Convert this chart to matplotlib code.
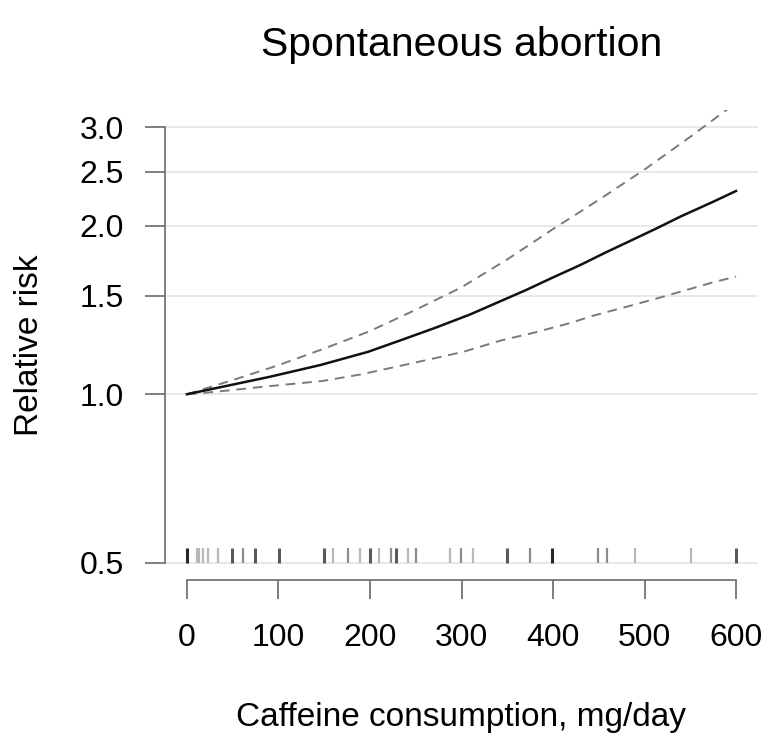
import matplotlib
matplotlib.use("Agg")
import matplotlib.pyplot as plt
import numpy as np

plt.rcParams['font.family'] = ['Liberation Sans', 'DejaVu Sans']

# ---- data ----
title = "Spontaneous abortion"
xlabel = "Caffeine consumption, mg/day"
ylabel = "Relative risk"

xticks = [0, 100, 200, 300, 400, 500, 600]
yticks = [0.5, 1.0, 1.5, 2.0, 2.5, 3.0]
ytick_labels = ["0.5", "1.0", "1.5", "2.0", "2.5", "3.0"]

est_x = [0, 90, 146, 198, 236, 271, 309, 336, 371, 398, 430, 457, 484, 513, 540, 574, 600]
est_y = [1.0, 1.074, 1.128, 1.191, 1.253, 1.314, 1.388, 1.451, 1.537, 1.612, 1.703,
         1.791, 1.879, 1.979, 2.081, 2.205, 2.309]

upper_x = [0, 50, 100, 150, 200, 250, 300, 350, 400, 450, 500, 550, 600]
upper_y = [1.0, 1.060, 1.127, 1.207, 1.297, 1.416, 1.553, 1.742, 1.974, 2.226, 2.522,
           2.886, 3.32]

lower_x = [0, 31, 85, 148, 190, 232, 273, 302, 344, 378, 419, 444, 482, 515, 544, 574, 600]
lower_y = [1.0, 1.010, 1.032, 1.056, 1.085, 1.123, 1.162, 1.191, 1.249, 1.287, 1.341,
           1.382, 1.436, 1.486, 1.533, 1.584, 1.623]

rug_x = [0, 11, 13.5, 17, 23, 34, 49, 61, 74, 101, 150, 160, 176, 189, 200, 210, 223,
         228, 241, 250, 287, 299, 313, 350, 375, 399, 449, 459, 490, 551, 600]
rug_w = [4, 1, 1, 1, 1, 1, 3, 2, 3, 3, 3, 1, 2, 1, 3, 1, 2, 3, 1, 2, 1, 2, 1, 3, 2, 4,
         2, 2, 1, 1, 3]

# ---- figure ----
W, H, DPI = 767, 738, 100
fig = plt.figure(figsize=(W / DPI, H / DPI), dpi=DPI)
L, R, T, B = 165, 758, 110, 580
ax = fig.add_axes([L / W, 1 - B / H, (R - L) / W, (B - T) / H])

ax.set_yscale('log')
xmin, xmax = xticks[0], xticks[-1]
xpad = 0.04 * (xmax - xmin)
ax.set_xlim(xmin - xpad, xmax + xpad)
lo, hi = np.log(yticks[0]), np.log(yticks[-1])
ypad = 0.04 * (hi - lo)
ax.set_ylim(np.exp(lo - ypad), np.exp(hi + ypad))

# grid lines
for yv in yticks:
    ax.axhline(yv, color='#e6e6e6', lw=1.3, zorder=0)

# rug
rug_colors = {1: 0.72, 2: 0.55, 3: 0.35, 4: 0.15}
for xv, w in zip(rug_x, rug_w):
    g = rug_colors[w]
    ax.vlines(xv, yticks[0], yticks[0] * 1.06, color=(g, g, g),
              lw=1.6 if w < 3 else 2.2, zorder=2)

# curves
dash = (0, (5, 3.5))
ax.plot(upper_x, upper_y, color='#7a7a7a', lw=1.4, linestyle=dash, zorder=3)
ax.plot(lower_x, lower_y, color='#7a7a7a', lw=1.4, linestyle=dash, zorder=3)
ax.plot(est_x, est_y, color='#111111', lw=1.8, zorder=4)

# axes styling (R-like detached axes)
for s in ['top', 'right']:
    ax.spines[s].set_visible(False)
axcol = '#6a6a6a'
ax.spines['left'].set_bounds(yticks[0], yticks[-1])
ax.spines['bottom'].set_bounds(xmin, xmax)
for s in ['left', 'bottom']:
    ax.spines[s].set_color(axcol)
    ax.spines[s].set_linewidth(1.2)

ax.set_yticks(yticks)
ax.set_yticklabels(ytick_labels)
ax.yaxis.set_minor_locator(matplotlib.ticker.NullLocator())
ax.set_xticks(xticks)
ax.set_xticklabels([str(v) for v in xticks])

ax.tick_params(axis='y', direction='out', length=14.5, width=1.2, color=axcol,
               labelsize=23, pad=15, labelcolor='black')
ax.tick_params(axis='x', direction='out', length=14, width=1.2, color=axcol,
               labelsize=23, pad=17, labelcolor='black')

ax.set_xlabel(xlabel, fontsize=24)
ax.xaxis.set_label_coords(0.5, (B - 726) / (B - T))
ax.xaxis.label.set_va('baseline')
ax.set_ylabel(ylabel, fontsize=24)
ax.yaxis.set_label_coords((30 - L) / (R - L), 0.5)
ax.yaxis.label.set_va('center')
fig.text((L + R) / 2 / W, 1 - 45 / H, title, fontsize=29.5, ha='center', va='center')

fig.savefig("out.png", dpi=DPI)
